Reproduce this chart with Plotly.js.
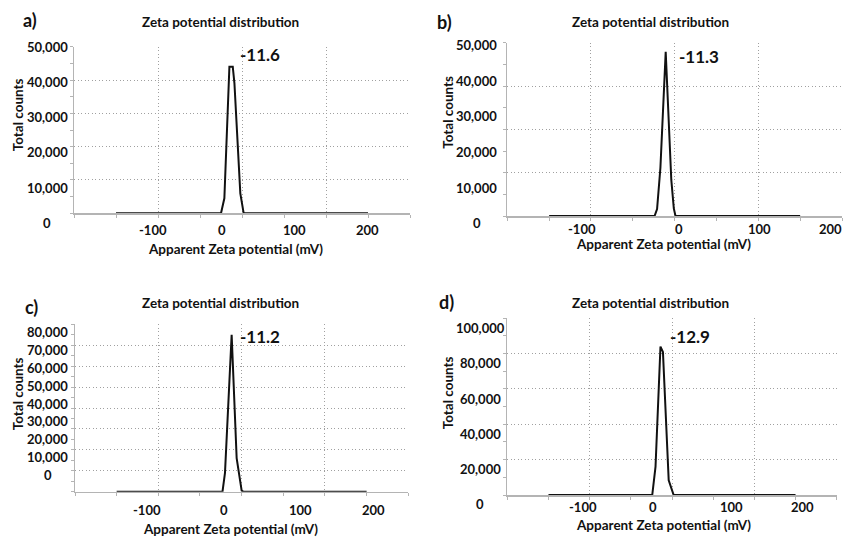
<!DOCTYPE html>
<html>
<head>
<meta charset="utf-8">
<script src="https://cdn.plot.ly/plotly-3.0.1.min.js"></script>
<style>html,body{margin:0;padding:0;background:#fff;}#chart{width:843px;height:537px;}</style>
</head>
<body>
<div id="chart"></div>
<script>
// ---------- data ----------
const zetaA   = [-150, -25, -21, -15, -11, -9, -2, 2, 150];
const countsA = [0, 0, 4500, 44000, 44000, 39000, 6000, 0, 0];

const zetaB   = [-150, -24, -21, -17, -10.7, -4, -1, 1, 150];
const countsB = [0, 0, 2000, 14000, 47400, 10400, 2200, 0, 0];

const zetaC   = [-150, -23, -20, -12, -6, 0, 2, 150];
const countsC = [0, 0, 9000, 75000, 16000, 500, 0, 0];

const zetaD   = [-150, -24, -20, -14, -11, -4, 2, 150];
const countsD = [0, 0, 16000, 84000, 81000, 8300, 0, 0];

const panelLetters = ['a)', 'b)', 'c)', 'd)'];
const peakLabels   = ['-11.6', '-11.3', '-11.2', '-12.9'];
const xTickText    = ['-100', '0', '100', '200'];
const yTicksA = [0, 10000, 20000, 30000, 40000, 50000];
const yTicksB = [0, 10000, 20000, 30000, 40000, 50000];
const yTicksC = [0, 10000, 20000, 30000, 40000, 50000, 60000, 70000, 80000];
const yTicksD = [0, 20000, 40000, 60000, 80000, 100000];
const chartTitle = 'Zeta potential distribution';
const xTitle = 'Apparent Zeta potential (mV)';
const yTitle = 'Total counts';

// ---------- layout geometry (pixels of the 843x537 page) ----------
const W = 843, H = 537;
const fx = p => p / W;
const fy = p => 1 - p / H;

const panels = [
  {x: zetaA, y: countsA, yt: yTicksA, frame: [74, 410, 46.7, 213.3], yTop: 50000, yStep: 10000,
   yLab: {zero: 223, top: 46.7, cx: 47}, xLabPos: [-106.4, -23.5, 62.3, 149.6], xLabY: 230,
   title: [220, 21.7], xt: [235, 249], ytl: [18.3, 115], letter: [30, 20], peak: [260, 55]},
  {x: zetaB, y: countsB, yt: yTicksB, frame: [507.3, 842, 42.7, 216], yTop: 50000, yStep: 12500,
   yLab: {zero: 223.3, top: 45, cx: 477}, xLabPos: [-110.9, 5.5, 101.5, 186.5], xLabY: 229,
   title: [650, 21.7], xt: [663, 243.5], ytl: [448.3, 112.5], letter: [445, 21.7], peak: [699, 56]},
  {x: zetaC, y: countsC, yt: yTicksC, frame: [75, 408.3, 324.3, 491.7], yTop: 80000, yStep: 10000,
   yLab: {zero: 475, top: 332.3, cx: 47.5}, xLabPos: [-113.3, -21.2, 70.8, 158.1], xLabY: 510,
   title: [220, 303.3], xt: [230, 529.3], ytl: [18.3, 394], letter: [31, 306.7], peak: [260, 336.7]},
  {x: zetaD, y: countsD, yt: yTicksD, frame: [507.3, 836.7, 318.3, 495], yTop: 100000, yStep: 20000,
   yLab: {zero: 504, top: 328.3, cx: 480}, xLabPos: [-108.1, -23.1, 71.7, 158], xLabY: 507,
   title: [650, 303.3], xt: [663, 524.5], ytl: [448.3, 393], letter: [447, 302], peak: [689.5, 336.7]}
];

const FONT = 'Lato, "Open Sans", sans-serif';
const TXT = '#111111';
const AXC = '#b4b4b4';
const GRIDC = '#a0a0a0';
const DOT = '1px,2.5px';

const data = [];
const layout = {
  width: W, height: H,
  margin: {l: 0, r: 0, t: 0, b: 0, pad: 0},
  paper_bgcolor: '#ffffff', plot_bgcolor: '#ffffff',
  showlegend: false,
  font: {family: FONT, color: TXT},
  annotations: []
};

function ann(text, x, y, size, extra) {
  layout.annotations.push(Object.assign({
    text: text, xref: 'paper', yref: 'paper', x: fx(x), y: fy(y),
    xanchor: 'center', yanchor: 'middle', showarrow: false, borderpad: 0,
    font: {family: FONT, size: size, color: TXT, weight: 'bold'}
  }, extra || {}));
}

panels.forEach((p, i) => {
  const n = i + 1;
  const xs = n === 1 ? '' : String(n);
  const [L, R, T, B] = p.frame;
  data.push({
    type: 'scatter', mode: 'lines', x: p.x, y: p.y,
    xaxis: 'x' + xs, yaxis: 'y' + xs,
    line: {color: '#111111', width: 2},
    hoverinfo: 'skip', showlegend: false
  });
  layout['xaxis' + xs] = {
    domain: [fx(L), fx(R)], anchor: 'y' + xs, range: [-200, 200],
    tickmode: 'linear', tick0: -200, dtick: 100,
    ticks: 'outside', ticklen: 3, tickcolor: AXC, showticklabels: false,
    showgrid: true, gridcolor: GRIDC, griddash: DOT, gridwidth: 1,
    zeroline: false, showline: true, linecolor: AXC, linewidth: 1.5,
    minor: {tick0: -200, dtick: 50, ticks: 'outside', ticklen: 3, tickcolor: AXC, showgrid: false},
    fixedrange: true
  };
  layout['yaxis' + xs] = {
    domain: [fy(B), fy(T)], anchor: 'x' + xs, range: [0, p.yTop],
    tickmode: 'linear', tick0: 0, dtick: p.yStep,
    showticklabels: false, ticks: 'outside', ticklen: 3, tickcolor: AXC,
    showgrid: true, gridcolor: GRIDC, griddash: DOT, gridwidth: 1,
    zeroline: false, showline: true, linecolor: AXC, linewidth: 1.5,
    minor: {tick0: 0, dtick: p.yStep / 2, ticks: 'outside', ticklen: 3, tickcolor: AXC, showgrid: false},
    fixedrange: true
  };
  // x tick labels: the reference prints them offset from the grid; place them on the x scale
  p.xLabPos.forEach((v, k) => {
    const px = L + (v + 200) / 400 * (R - L);
    ann(xTickText[k], px, p.xLabY, 13);
  });
  // y tick labels (centred, as in the reference) on their own linear label scale
  const top = p.yt[p.yt.length - 1];
  p.yt.forEach(v => {
    const py = p.yLab.zero + (p.yLab.top - p.yLab.zero) * v / top;
    ann(v.toLocaleString('en-US'), p.yLab.cx, py, 13);
  });
  ann(chartTitle, p.title[0], p.title[1], 13.5);
  ann(xTitle, p.xt[0], p.xt[1], 13.5);
  ann(yTitle, p.ytl[0], p.ytl[1], 13.5, {textangle: -90});
  ann(panelLetters[i], p.letter[0], p.letter[1], 18);
  ann(peakLabels[i], p.peak[0], p.peak[1], 17);
});

Plotly.newPlot('chart', data, layout, {displayModeBar: false, staticPlot: true});
</script>
</body>
</html>
